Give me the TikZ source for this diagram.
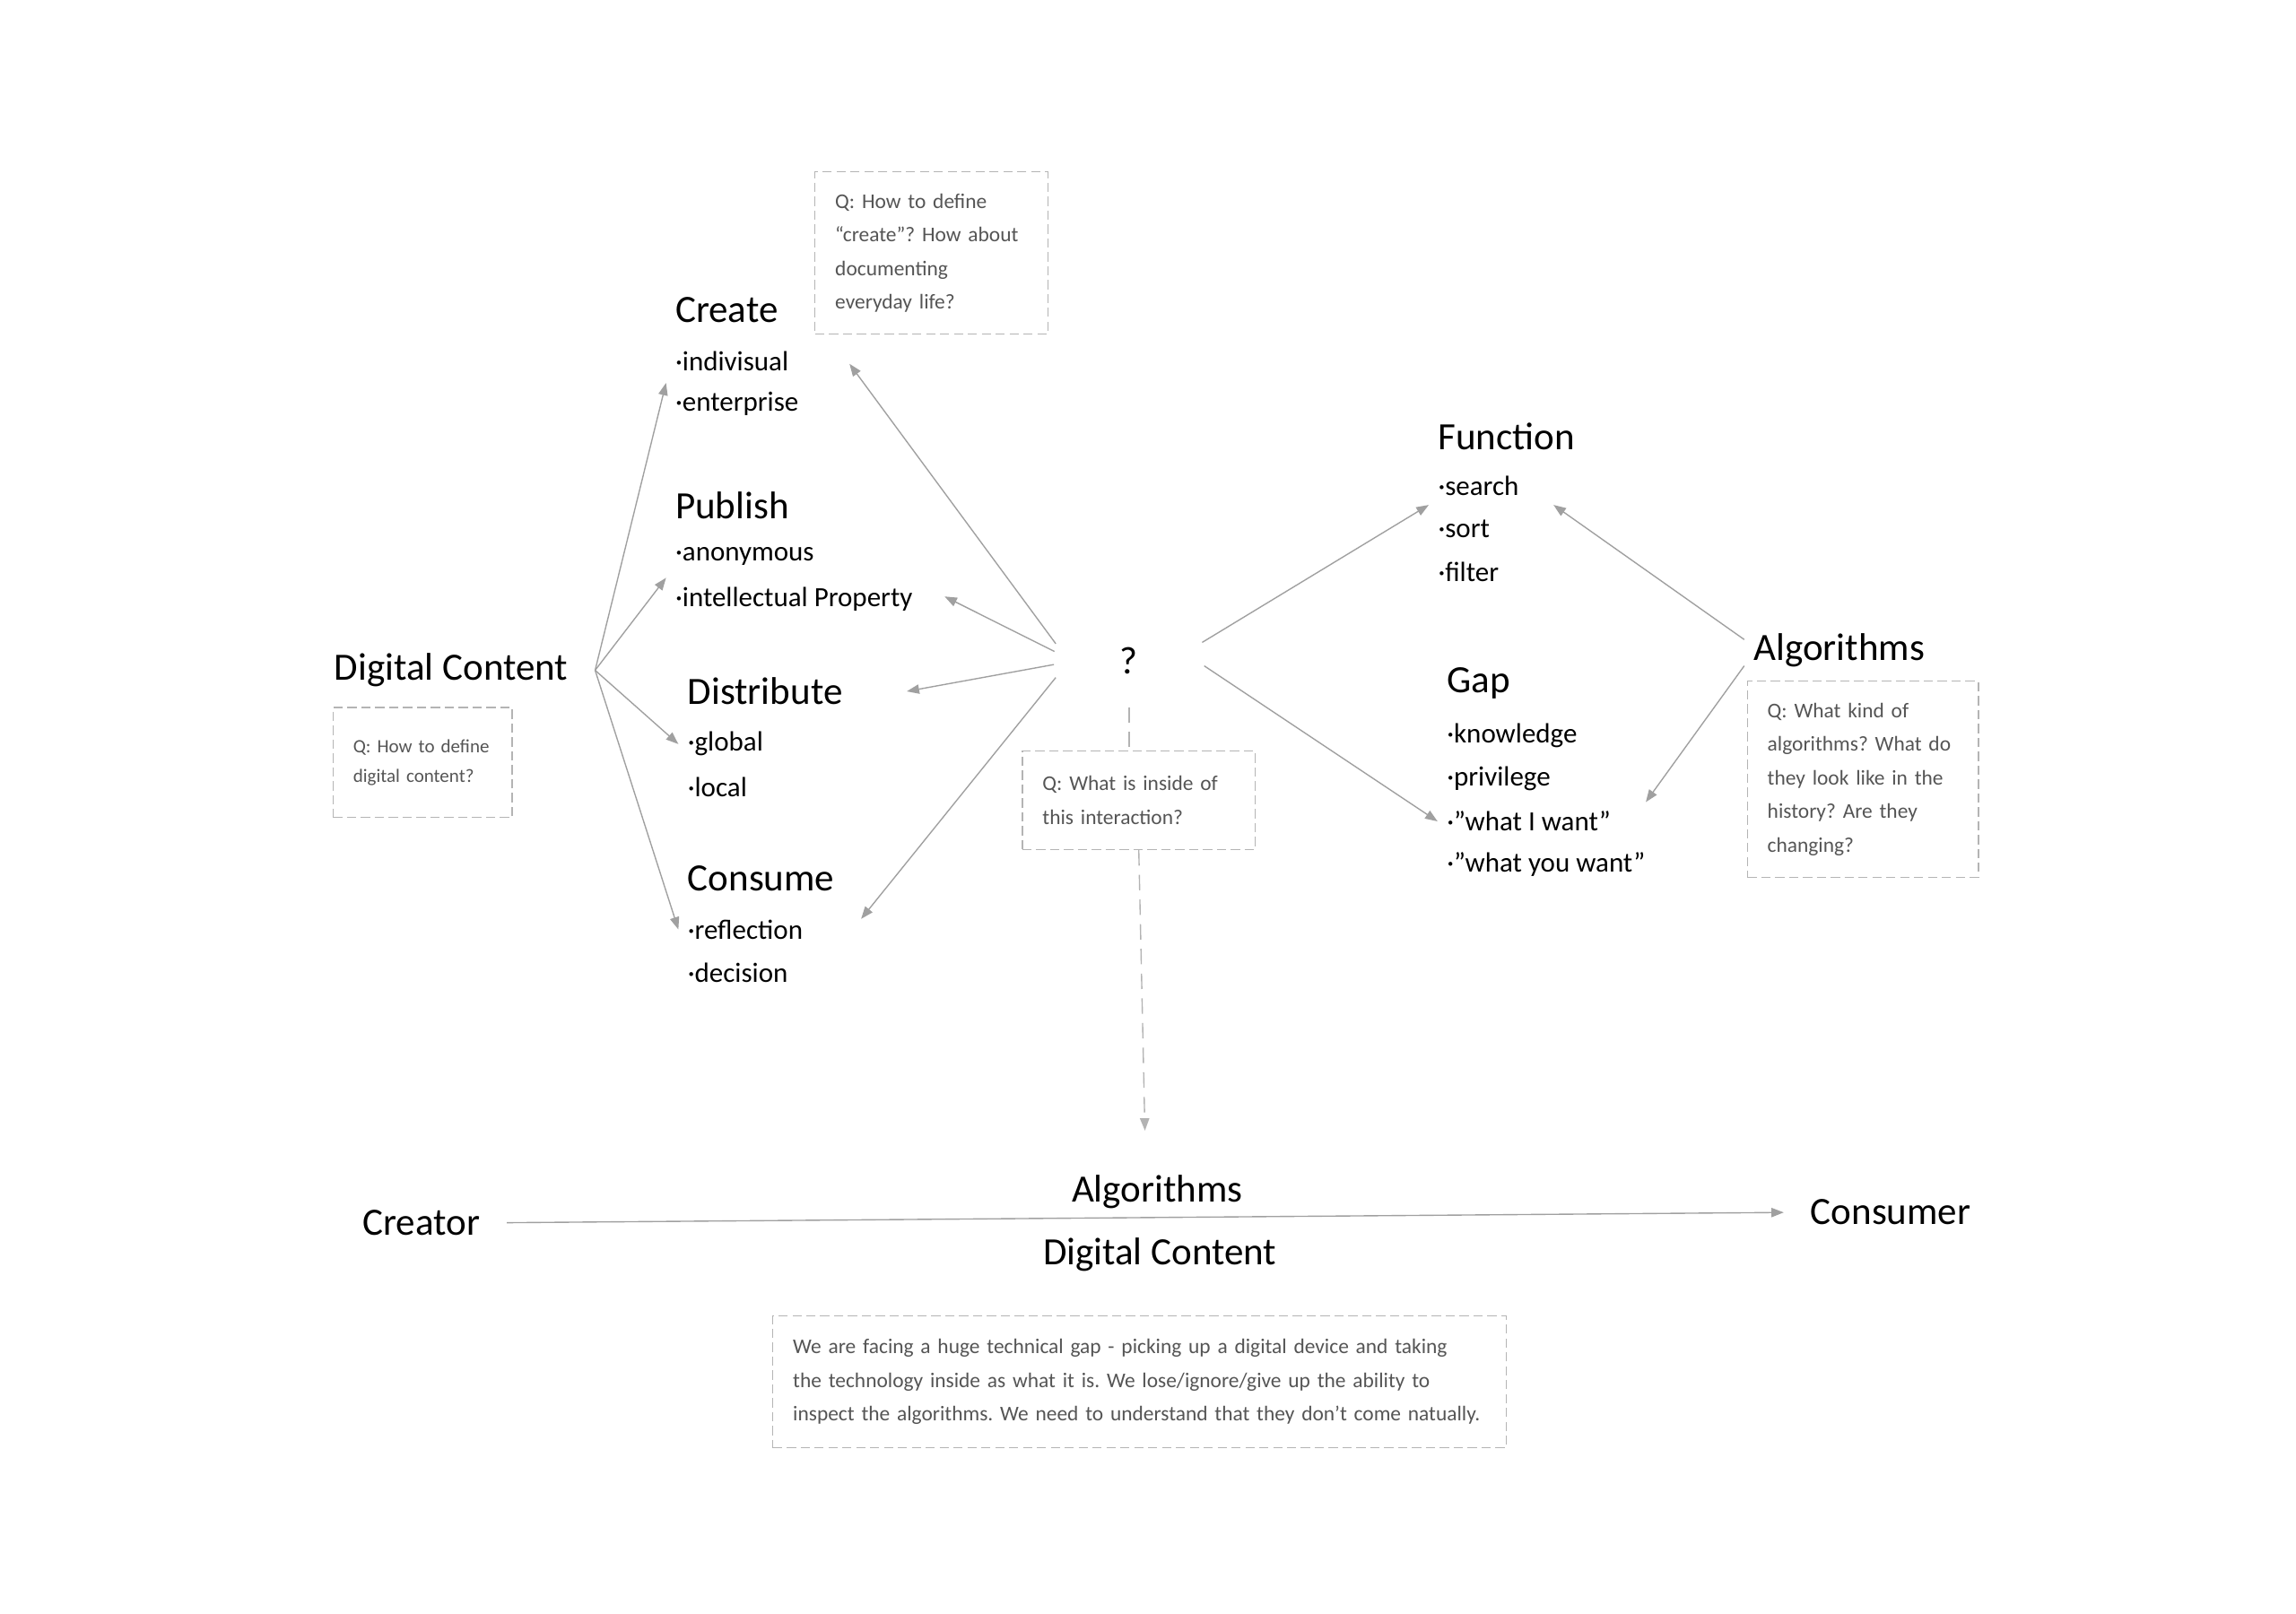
\documentclass[tikz,border=0pt]{standalone}
\usepackage{fontspec}
\setmainfont{Carlito}
\usetikzlibrary{arrows.meta}

\definecolor{arrgray}{HTML}{A0A0A0}
\definecolor{boxgray}{HTML}{B4B4B4}
\definecolor{qtext}{HTML}{555555}

\begin{document}
\frenchspacing
\begin{tikzpicture}[
  head/.style={anchor=west, inner sep=0.1cm, font=\fontsize{12.5}{14}\selectfont},
  item/.style={anchor=west, inner sep=0.1cm, font=\fontsize{9}{11}\selectfont},
  qbox/.style={draw=boxgray, dash pattern=on 3pt off 1.5pt, thin, align=left,
    inner sep=0.23cm, text=qtext, font=\fontsize{6.8}{10.9}\selectfont},
  arr/.style={draw=arrgray, thin, -{Triangle[length=4pt,width=3pt]}},
  dline/.style={draw=arrgray!80, thin, dash pattern=on 5pt off 3pt},
]
\fill[white] (0,0) rectangle (26.13,-18.37);
\useasboundingbox (0,0) rectangle (26.13,-18.37);

% left side
\node[head] (dc) at (3.70,-7.63) {Digital Content};
\node[qbox, text width=1.58cm, minimum height=1.25cm, font=\fontsize{6.1}{9.5}\selectfont] (dcq) at (4.81,-8.68)
  {Q: How to define\\digital content?};

\node[head] (create) at (7.58,-3.53) {Create};
\foreach \t [count=\i] in {indivisual, enterprise}
  \node[item] (create\i) at (7.58,-3.62-0.49*\i) {·\t};
\node[qbox, text width=2.19cm, minimum height=1.85cm] (cq) at (10.60,-2.88)
  {Q: How to define\\“create”? How about\\documenting\\everyday life?};

\node[head] (pub) at (7.58,-5.75) {Publish};
\foreach \t [count=\i] in {anonymous, intellectual Property}
  \node[item] (pub\i) at (7.58,-5.84-0.49*\i) {·\t};

\node[head] (dist) at (7.72,-7.87) {Distribute};
\foreach \t [count=\i] in {global, local}
  \node[item] (dist\i) at (7.72,-7.98-0.49*\i) {·\t};

\node[head] (cons) at (7.72,-10.0) {Consume};
\foreach \t [count=\i] in {reflection, decision}
  \node[item] (cons\i) at (7.72,-10.09-0.49*\i) {·\t};

% middle
\node[circle, minimum size=1.7cm, inner sep=0pt, font=\fontsize{12.5}{14}\selectfont] (q) at (12.85,-7.52) {?};
\node[qbox, text width=2.19cm, minimum height=1.12cm] (iq) at (12.96,-9.11)
  {Q: What is inside of\\this interaction?};
\coordinate (down) at (13.03,-12.87);

% right side
\node[head] (func) at (16.26,-4.97) {Function};
\foreach \t [count=\i] in {search, sort, filter}
  \node[item] (func\i) at (16.26,-5.04-0.49*\i) {·\t};

\node[head] (gap) at (16.36,-7.78) {Gap};
\foreach \t [count=\i] in {knowledge, privilege, ”what I want”, ”what you want”}
  \node[item] (gap\i) at (16.36,-7.88-0.49*\i) {·\t};

\node[head] (alg) at (19.85,-7.40) {Algorithms};
\node[qbox, text width=2.17cm, minimum height=2.23cm] (aq) at (21.20,-8.87)
  {Q: What kind of\\algorithms? What do\\they look like in the\\history? Are they\\changing?};

% bottom
\node[head] (creator) at (4.02,-13.92) {Creator};
\node[head] (consumer) at (20.50,-13.80) {Consumer};
\node[head, anchor=center] (balg) at (13.17,-13.57) {Algorithms};
\node[head, anchor=center] (bdc) at (13.20,-14.28) {Digital Content};
\node[qbox, text width=7.89cm, minimum height=1.50cm] (gapq) at (12.97,-15.73)
  {We are facing a huge technical gap - picking up a digital device and taking\\
   the technology inside as what it is. We lose/ignore/give up the ability to\\
   inspect the algorithms. We need to understand that they don’t come natually.};

% arrows out of digital content
\draw[arr] ([xshift=0.2cm]dc.east) -- (create2.north west);
\draw[arr] ([xshift=0.2cm]dc.east) -- (pub2.north west);
\draw[arr] ([xshift=0.2cm]dc.east) -- (dist1.west);
\draw[arr] ([xshift=0.2cm]dc.east) -- (cons1.west);

% arrows out of ?
\draw[arr] (q.167) -- ([shift={(0.4,-0.33)}]cq.south west);
\draw[arr] (q.173) -- ([shift={(3.17,0.03)}]pub2.west);
\draw[arr] (q.183) -- ([xshift=2.6cm]dist.west);
\draw[arr] (q.193) -- ([shift={(2.08,0.12)}]cons1.west);
\draw[arr] (q.14) -- (func1.south west);
\draw[arr] (q.356) -- (gap3.west);

% arrows out of algorithms
\draw[arr] ([yshift=0.12cm]alg.west) -- ([xshift=1.42cm]func1.south west);
\draw[arr] ([yshift=-0.18cm]alg.west) -- ([xshift=2.37cm]gap3.north west);

\draw[dline] ([yshift=-0.53cm]q.center) -- (q.center |- iq.north);
\draw[dline, -{Triangle[length=4pt,width=3pt]}] (iq.south) -- (down);

\draw[arr, shorten <=0.2cm, shorten >=0.2cm] (creator.east) -- (consumer.west);

\end{tikzpicture}
\end{document}
